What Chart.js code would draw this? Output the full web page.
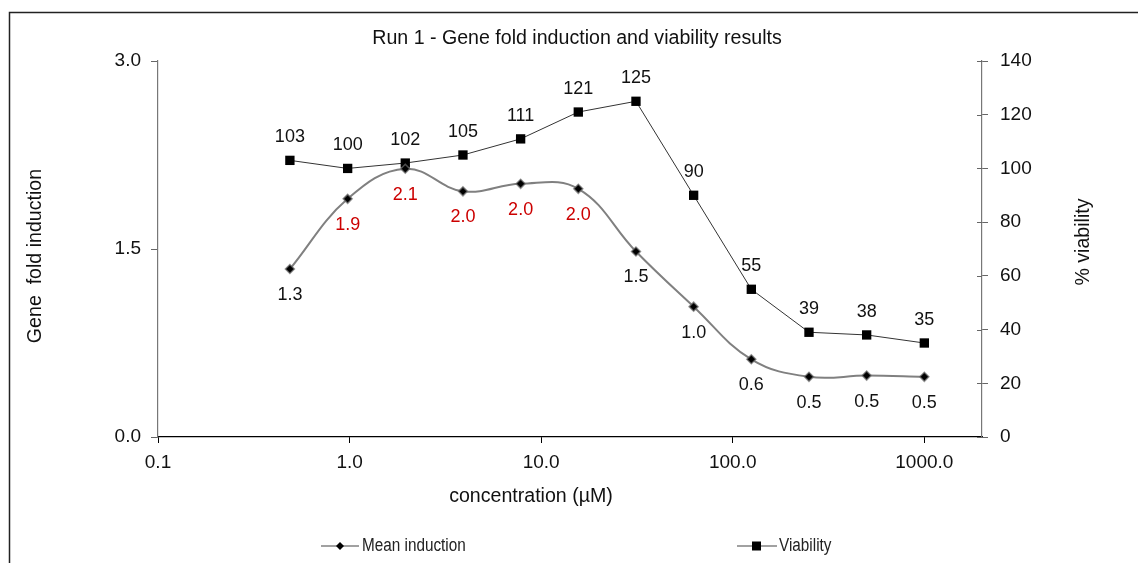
<!DOCTYPE html>
<html>
<head>
<meta charset="utf-8">
<title>Run 1 - Gene fold induction and viability results</title>
<script src="https://cdn.jsdelivr.net/npm/chart.js@4.4.1/dist/chart.umd.min.js"></script>
<style>
  html, body { margin: 0; padding: 0; background: #fff; }
  canvas { display: block; }
</style>
</head>
<body>
<canvas id="chart" width="1138" height="563"></canvas>
<script>
// concentrations (µM), two-fold dilution series
const concentrations = [0.488, 0.977, 1.953, 3.906, 7.813, 15.625, 31.25, 62.5, 125, 250, 500, 1000];
// mean gene fold induction
const meanInduction = [1.34, 1.90, 2.14, 1.96, 2.02, 1.98, 1.48, 1.04, 0.62, 0.48, 0.49, 0.48];
// % viability
const viability = [103, 100, 102, 105, 111, 121, 125, 90, 55, 39, 38, 35];

const xTicks = [0.1, 1, 10, 100, 1000];
const inductionTicks = [0, 1.5, 3.0];
const viabilityTicks = [0, 20, 40, 60, 80, 100, 120, 140];

// induction labels above this are printed in red
const inductionCutoff = 1.8;

const FONT = "'Liberation Sans', Arial, sans-serif";

// condensed text: no narrow face installed, so squeeze horizontally
function narrowText(ctx, text, x, y, squeeze) {
  ctx.save();
  ctx.translate(x, y);
  ctx.scale(squeeze, 1);
  ctx.fillText(text, 0, 0);
  ctx.restore();
}

const overlay = {
  id: 'overlay',
  beforeDraw(chart) {
    const ctx = chart.ctx;
    ctx.save();
    // outer frame (left and top edges only)
    ctx.strokeStyle = '#222';
    ctx.lineWidth = 1.5;
    ctx.beginPath();
    ctx.moveTo(9.5, 563);
    ctx.lineTo(9.5, 12.5);
    ctx.lineTo(1138, 12.5);
    ctx.stroke();
    ctx.restore();
  },
  afterDraw(chart) {
    const ctx = chart.ctx;
    const area = chart.chartArea;
    ctx.save();
    ctx.fillStyle = '#111';
    ctx.textAlign = 'center';
    ctx.textBaseline = 'middle';

    ctx.font = '19.6px ' + FONT;
    ctx.fillText('Run 1 - Gene fold induction and viability results', 577, 39);
    ctx.fillText('concentration (µM)', 531, 497);

    ctx.save();
    ctx.translate(36, 256);
    ctx.rotate(-Math.PI / 2);
    ctx.fillText('Gene  fold induction', 0, 0);
    ctx.restore();

    ctx.save();
    ctx.translate(1084, 242);
    ctx.rotate(-Math.PI / 2);
    ctx.fillText('% viability', 0, 0);
    ctx.restore();

    // inner half of the right axis tick marks
    const y1 = chart.scales.y1;
    ctx.strokeStyle = '#666';
    ctx.lineWidth = 1;
    viabilityTicks.forEach(v => {
      const py = Math.round(y1.getPixelForValue(v)) + 0.5;
      ctx.beginPath();
      ctx.moveTo(area.right - 5, py);
      ctx.lineTo(area.right, py);
      ctx.stroke();
    });

    // legend
    const ly = 546;
    ctx.lineWidth = 1.2;
    ctx.strokeStyle = '#444';
    ctx.beginPath();
    ctx.moveTo(321, ly);
    ctx.lineTo(359, ly);
    ctx.stroke();
    ctx.fillStyle = '#000';
    ctx.beginPath();
    ctx.moveTo(340, ly - 4);
    ctx.lineTo(344, ly);
    ctx.lineTo(340, ly + 4);
    ctx.lineTo(336, ly);
    ctx.closePath();
    ctx.fill();

    ctx.beginPath();
    ctx.moveTo(737, ly);
    ctx.lineTo(777, ly);
    ctx.stroke();
    ctx.fillRect(752, ly - 4.5, 9, 9);

    ctx.font = '18px ' + FONT;
    ctx.textAlign = 'left';
    ctx.fillStyle = '#222';
    narrowText(ctx, 'Mean induction', 362, ly, 0.85);
    narrowText(ctx, 'Viability', 779, ly, 0.85);
    ctx.restore();
  },
  afterDatasetsDraw(chart) {
    const ctx = chart.ctx;
    ctx.save();
    ctx.font = '18px ' + FONT;
    ctx.textAlign = 'center';
    ctx.textBaseline = 'middle';

    chart.getDatasetMeta(0).data.forEach((pt, i) => {
      const v = meanInduction[i];
      ctx.fillStyle = v > inductionCutoff ? '#cc0000' : '#111';
      ctx.fillText(v.toFixed(1), pt.x, pt.y + 26);
    });
    chart.getDatasetMeta(1).data.forEach((pt, i) => {
      ctx.fillStyle = '#111';
      ctx.fillText(String(viability[i]), pt.x, pt.y - 23);
    });
    ctx.restore();
  }
};

const tickFont = { family: FONT, size: 19 };

new Chart(document.getElementById('chart'), {
  type: 'line',
  data: {
    datasets: [
      {
        label: 'Mean induction',
        data: concentrations.map((c, i) => ({ x: c, y: meanInduction[i] })),
        yAxisID: 'y',
        borderColor: '#808080',
        borderWidth: 2,
        tension: 0.4,
        pointStyle: 'rectRot',
        pointRadius: 4.5,
        pointBackgroundColor: '#000',
        pointBorderColor: 'rgba(110,110,110,0.7)',
        pointBorderWidth: 1.5
      },
      {
        label: 'Viability',
        data: concentrations.map((c, i) => ({ x: c, y: viability[i] })),
        yAxisID: 'y1',
        borderColor: '#333',
        borderWidth: 1,
        tension: 0,
        pointStyle: 'rect',
        pointRadius: 6.6,
        pointBackgroundColor: '#000',
        pointBorderColor: '#000',
        pointBorderWidth: 0
      }
    ]
  },
  options: {
    responsive: false,
    animation: false,
    layout: { padding: { top: 61, right: 0, bottom: 0, left: 0 } },
    plugins: {
      legend: { display: false },
      title: { display: false },
      tooltip: { enabled: false }
    },
    scales: {
      x: {
        type: 'logarithmic',
        position: 'bottom',
        min: 0.1,
        max: 2000,
        afterBuildTicks: s => { s.ticks = xTicks.map(v => ({ value: v })); },
        afterFit: s => { s.height = 126; },
        ticks: {
          callback: v => Number(v).toFixed(1),
          font: tickFont,
          color: '#111',
          padding: 8,
          maxRotation: 0,
          autoSkip: false
        },
        grid: { drawOnChartArea: false, drawTicks: true, tickLength: 6, color: '#000' },
        border: { color: '#000', width: 1.2 }
      },
      y: {
        position: 'left',
        min: 0,
        max: 3,
        afterBuildTicks: s => { s.ticks = inductionTicks.map(v => ({ value: v })); },
        afterFit: s => { s.width = 158; },
        ticks: {
          callback: v => Number(v).toFixed(1),
          font: tickFont,
          color: '#111',
          padding: 10
        },
        grid: { drawOnChartArea: false, drawTicks: true, tickLength: 7, color: '#666' },
        border: { color: '#777', width: 1.2 }
      },
      y1: {
        position: 'right',
        min: 0,
        max: 140,
        afterBuildTicks: s => { s.ticks = viabilityTicks.map(v => ({ value: v })); },
        afterFit: s => { s.width = 156; },
        ticks: {
          font: tickFont,
          color: '#111',
          padding: 12
        },
        grid: { drawOnChartArea: false, drawTicks: true, tickLength: 6, color: '#666' },
        border: { color: '#777', width: 1.2 }
      }
    }
  },
  plugins: [overlay]
});
</script>
</body>
</html>
